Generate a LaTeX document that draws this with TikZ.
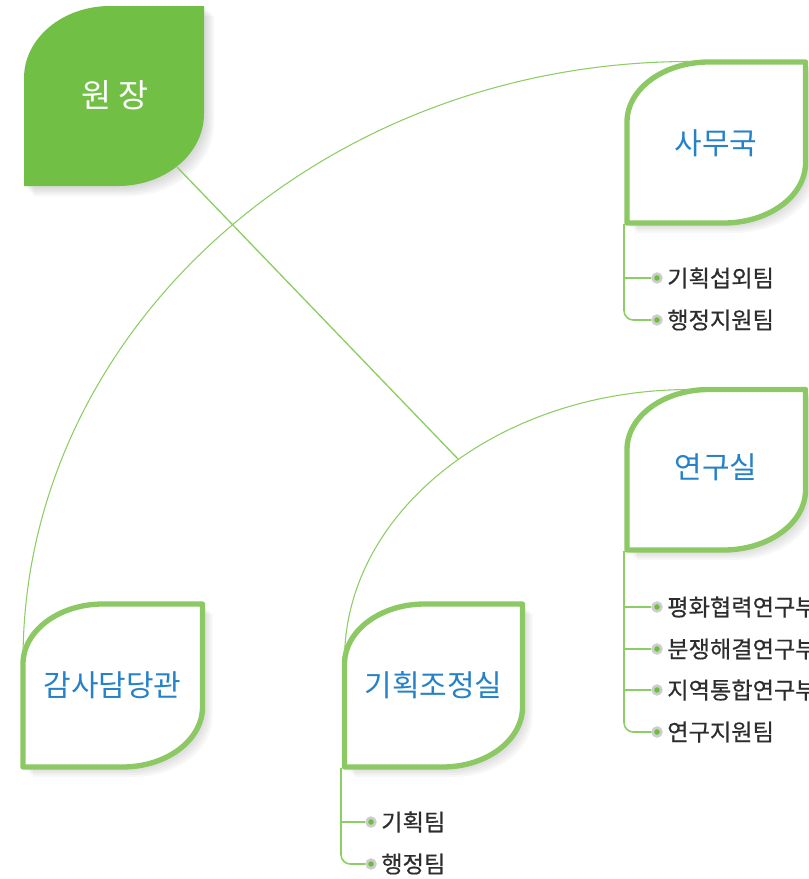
\documentclass[tikz,border=0pt]{standalone}
\usepackage{fontspec}
\setmainfont{Noto Sans CJK KR}
\newfontfamily\itemfont[FakeBold=0.5]{Noto Sans CJK KR}
\usepackage{tikz}

\definecolor{leafgreen}{RGB}{114,191,70}
\definecolor{rimgreen}{RGB}{140,200,100}
\definecolor{linegreen}{RGB}{140,205,100}
\definecolor{dotgreen}{RGB}{108,190,60}
\definecolor{dotring}{RGB}{205,205,205}
\definecolor{labelblue}{RGB}{38,130,200}
\definecolor{itemgray}{RGB}{45,45,45}

% leaf outline: x1, y1, x2, y2, rx, ry
\newcommand{\leafshape}[6]{(#1,#4) -- (#1,{#2+#6}) .. controls (#1,{#2+0.448*#6}) and ({#1+0.448*#5},#2) .. ({#1+#5},#2) -- (#3,#2) -- (#3,{#4-#6}) .. controls (#3,{#4-0.448*#6}) and ({#3-0.448*#5},#4) .. ({#3-#5},#4) -- cycle}

\tikzset{
  leafrim/.style={draw=rimgreen, line width=4pt, fill=white, line join=round},
  leafshadow/.style={fill=black, opacity=0.03},
  leaflabel/.style={inner sep=0.75pt, text=labelblue, font=\fontsize{22.5}{26}\selectfont},
  item/.style={anchor=west, inner sep=0.75pt, text=itemgray, font=\itemfont\fontsize{17.4}{20}\selectfont},
  dot/.style={circle, inner sep=0pt, minimum size=6.5pt, fill=dotgreen, draw=dotring, line width=2pt},
  arcline/.style={draw=linegreen, line width=0.8pt},
  branch/.style={draw=linegreen, line width=1.2pt}
}

\begin{document}
\begin{tikzpicture}[x=0.75pt,y=0.75pt,yscale=-1,xscale=1]
\useasboundingbox (0,0) rectangle (808,879);

% shadows
\foreach \d in {2,4,6,8,10}{
  \fill[leafshadow, shift={(\d,\d)}] \leafshape{24}{6}{204}{186}{86}{72};
  \fill[leafshadow, shift={(\d,\d)}] \leafshape{627}{62}{805.5}{223}{82}{60};
  \fill[leafshadow, shift={(\d,\d)}] \leafshape{627}{389.5}{805.5}{550}{82}{60};
  \fill[leafshadow, shift={(\d,\d)}] \leafshape{23}{604}{202.5}{767}{80}{60};
  \fill[leafshadow, shift={(\d,\d)}] \leafshape{344.5}{604}{522.5}{767}{80}{60};
}

% Leaf: 원장
\fill[leafgreen] \leafshape{24}{6}{204}{186}{86}{72};
\node[leaflabel, text=white, font=\fontsize{24.5}{28}\selectfont] (wonjang) at (115,95) {원 장};

% Leaf: 사무국
\draw[leafrim] \leafshape{627}{62}{805.5}{223}{82}{60};
\node[leaflabel] (samu) at (716,143) {사무국};

% Leaf: 연구실
\draw[leafrim] \leafshape{627}{389.5}{805.5}{550}{82}{60};
\node[leaflabel] (yeongu) at (716,467) {연구실};

% Leaf: 감사담당관
\draw[leafrim] \leafshape{23}{604}{202.5}{767}{80}{60};
\node[leaflabel] (gamsa) at (112.5,685) {감사담당관};

% Leaf: 기획조정실
\draw[leafrim] \leafshape{344.5}{604}{522.5}{767}{80}{60};
\node[leaflabel] (gihoek) at (433.5,685) {기획조정실};

% connector points
\coordinate (wonjang out) at (177,167);
\coordinate (samu top) at (690,61.5);
\coordinate (yeongu top) at (690,389.5);
\coordinate (gamsa left) at (23,660);
\coordinate (gihoek left) at (344.5,660);
\coordinate (join) at (458,459);

% arcs
\draw[arcline] (samu top) .. controls +(-368,0) and +(0,-330) .. (gamsa left);
\draw[arcline] (yeongu top) .. controls +(-191,0) and +(0,-149) .. (gihoek left);
\draw[arcline, line width=1pt] (wonjang out) -- (join);

% team lists
\coordinate (samu foot) at (624,224);
\coordinate (yeongu foot) at (624,551);
\coordinate (gihoek foot) at (341,768);

\node[dot] (samu1 dot) at (657,278) {};
\node[dot] (samu2 dot) at (657,320) {};
\node[item] (samu1) at (666,278) {기획섭외팀};
\node[item] (samu2) at (666,320) {행정지원팀};
\draw[branch] (samu foot) |- (samu1 dot);
\draw[branch, rounded corners=7] (samu foot) |- (samu2 dot);

\node[dot] (yeongu1 dot) at (657,607) {};
\node[dot] (yeongu2 dot) at (657,649) {};
\node[dot] (yeongu3 dot) at (657,690) {};
\node[dot] (yeongu4 dot) at (657,732) {};
\node[item] (yeongu1) at (666,607) {평화협력연구부};
\node[item] (yeongu2) at (666,649) {분쟁해결연구부};
\node[item] (yeongu3) at (666,690) {지역통합연구부};
\node[item] (yeongu4) at (666,732) {연구지원팀};
\draw[branch] (yeongu foot) |- (yeongu1 dot);
\draw[branch] (yeongu foot) |- (yeongu2 dot);
\draw[branch] (yeongu foot) |- (yeongu3 dot);
\draw[branch, rounded corners=7] (yeongu foot) |- (yeongu4 dot);

\node[dot] (gihoek1 dot) at (371,822) {};
\node[dot] (gihoek2 dot) at (371,864) {};
\node[item] (gihoek1) at (380,822) {기획팀};
\node[item] (gihoek2) at (380,864) {행정팀};
\draw[branch] (gihoek foot) |- (gihoek1 dot);
\draw[branch, rounded corners=7] (gihoek foot) |- (gihoek2 dot);

\end{tikzpicture}
\end{document}
